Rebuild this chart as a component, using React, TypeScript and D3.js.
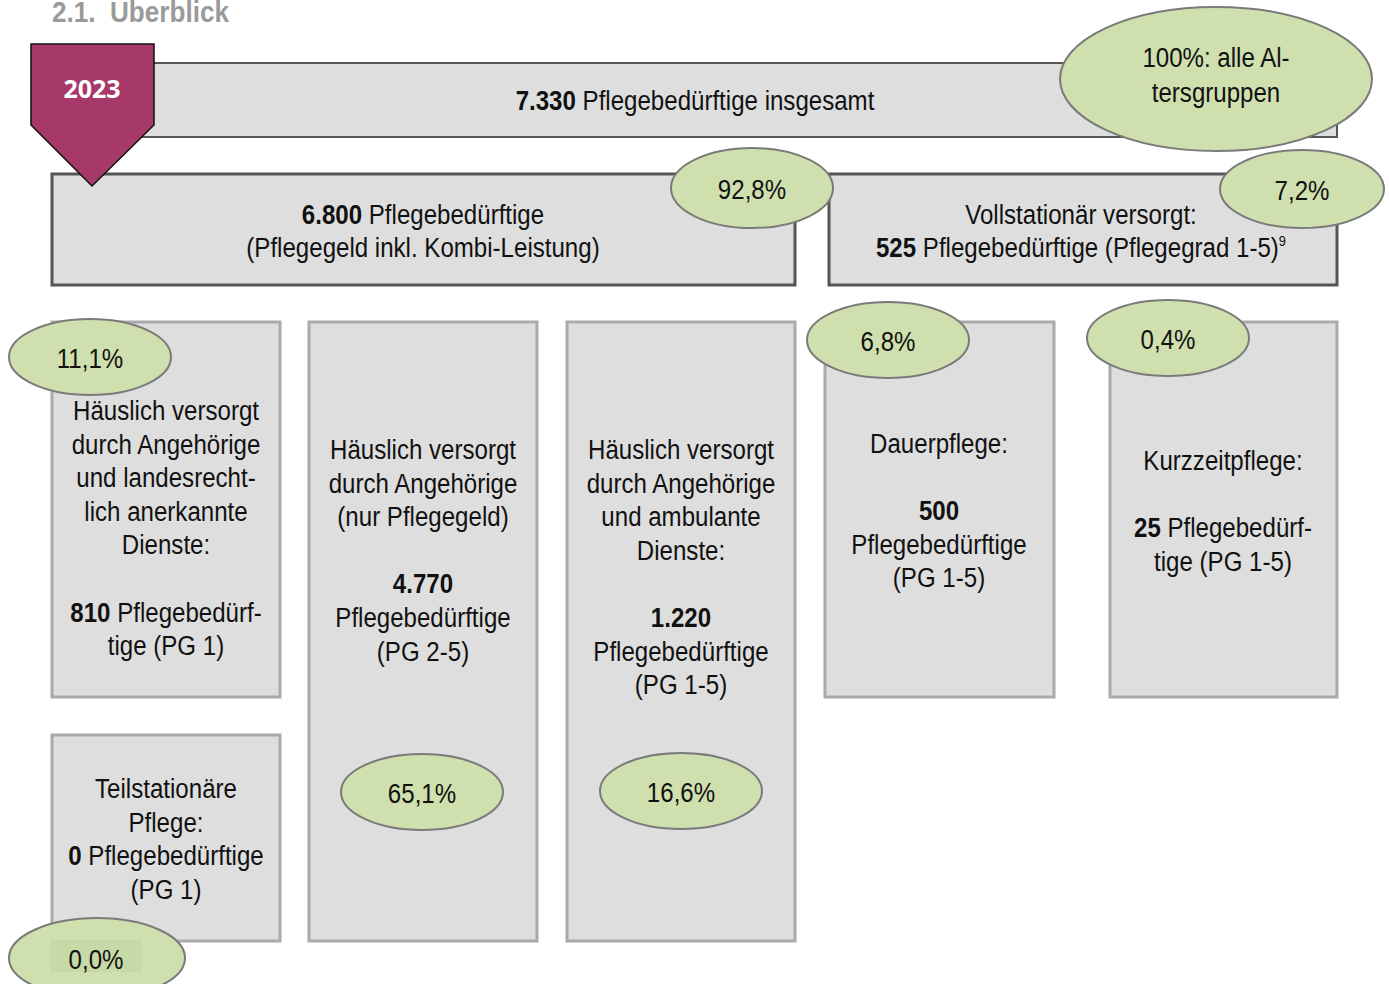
import * as d3 from "d3"

// values
const year = "2023"
const categories = [
  "insgesamt",
  "Pflegegeld",
  "Vollstationär",
  "Angehörige + Dienste",
  "nur Pflegegeld",
  "ambulant",
  "Dauerpflege",
  "Kurzzeitpflege",
  "Teilstationär",
]
const counts = [7330, 6800, 525, 810, 4770, 1220, 500, 25, 0]
const shares = [1, 0.928, 0.072, 0.111, 0.651, 0.166, 0.068, 0.004, 0.0]

const de = d3.formatLocale({ decimal: ",", thousands: ".", grouping: [3], currency: ["", " €"] })
const fmtN = de.format(",d")
const fmtP = de.format(".1%")

// Arial Narrow look: Liberation Sans squeezed horizontally
const FONT = "'Liberation Sans', Arial, sans-serif"
const SX = 0.86
const FS = 28
const GREEN = "#cfdfae"
const GREY = "#dedede"

type Seg = [string, boolean?]
type Line = Seg[]

// layout of the boxes (positions only)
const boxes = [
  { x: 140, y: 63, w: 1197, h: 74, stroke: "#555", sw: 2 },
  { x: 52, y: 174, w: 743, h: 111, stroke: "#555", sw: 3 },
  { x: 829, y: 174, w: 508, h: 111, stroke: "#555", sw: 3 },
  { x: 52, y: 322, w: 228, h: 375, stroke: "#aaa", sw: 3 },
  { x: 309, y: 322, w: 228, h: 619, stroke: "#aaa", sw: 3 },
  { x: 567, y: 322, w: 228, h: 619, stroke: "#aaa", sw: 3 },
  { x: 825, y: 322, w: 229, h: 375, stroke: "#aaa", sw: 3 },
  { x: 1110, y: 322, w: 227, h: 375, stroke: "#aaa", sw: 3 },
  { x: 52, y: 735, w: 228, h: 206, stroke: "#aaa", sw: 3 },
]
const textX = [695, 423, 1081, 166, 423, 681, 939, 1223, 166]
const textStart = [110, 224, 224, 420, 459, 459, 453, 470, 798]
const bubbles = [
  { cx: 1216, cy: 79, rx: 156, ry: 72 },
  { cx: 752, cy: 188, rx: 81, ry: 40 },
  { cx: 1302, cy: 189, rx: 82, ry: 39 },
  { cx: 90, cy: 357, rx: 81, ry: 38 },
  { cx: 422, cy: 792, rx: 81, ry: 38 },
  { cx: 681, cy: 791, rx: 81, ry: 38 },
  { cx: 888, cy: 340, rx: 81, ry: 38 },
  { cx: 1168, cy: 338, rx: 81, ry: 38 },
  { cx: 97, cy: 958, rx: 88, ry: 40 },
]

const P = "Pflegebedürftige"
const texts: Line[][] = [
  [[[fmtN(counts[0]), true], [" " + P + " insgesamt"]]],
  [[[fmtN(counts[1]), true], [" " + P]], [["(Pflegegeld inkl. Kombi-Leistung)"]]],
  [[["Vollstationär versorgt:"]], [[fmtN(counts[2]), true], [" " + P + " (Pflegegrad 1-5)"]]],
  [
    [["Häuslich versorgt"]], [["durch Angehörige"]], [["und landesrecht-"]], [["lich anerkannte"]],
    [["Dienste:"]], [], [[fmtN(counts[3]), true], [" Pflegebedürf-"]], [["tige (PG 1)"]],
  ],
  [
    [["Häuslich versorgt"]], [["durch Angehörige"]], [["(nur Pflegegeld)"]], [],
    [[fmtN(counts[4]), true]], [[P]], [["(PG 2-5)"]],
  ],
  [
    [["Häuslich versorgt"]], [["durch Angehörige"]], [["und ambulante"]], [["Dienste:"]], [],
    [[fmtN(counts[5]), true]], [[P]], [["(PG 1-5)"]],
  ],
  [[["Dauerpflege:"]], [], [[fmtN(counts[6]), true]], [[P]], [["(PG 1-5)"]]],
  [[["Kurzzeitpflege:"]], [], [[fmtN(counts[7]), true], [" Pflegebedürf-"]], [["tige (PG 1-5)"]]],
  [[["Teilstationäre"]], [["Pflege:"]], [[fmtN(counts[8]), true], [" " + P]], [["(PG 1)"]]],
]
const bubbleText = (i: number): string[] =>
  i === 0 ? [d3.format(".0%")(shares[0]) + ": alle Al-", "tersgruppen"] : [fmtP(shares[i])]

const LH = 33.6

// squeezed text group centred on x
function Narrow({ x, children }: { x: number; children: any }) {
  return <g transform={`translate(${x},0) scale(${SX},1)`}>{children}</g>
}

export default function App() {
  const width = 1389
  const height = 984
  return (
    <svg
      width={width}
      height={height}
      style={{ position: "absolute", left: 0, top: 0, background: "#fff" }}
      fontFamily={FONT}
    >
      <g transform="translate(52,0) scale(0.9,1)">
        <text x={0} y={22} fontSize={29} fontWeight={700} fill="#9a9a9a">
          2.1.{"\u00a0\u00a0"}Überblick
        </text>
      </g>
      {categories.map((c, i) => {
        const b = boxes[i]
        return (
          <g key={c}>
            <rect x={b.x} y={b.y} width={b.w} height={b.h} fill={GREY} stroke={b.stroke} strokeWidth={b.sw} />
            <Narrow x={textX[i]}>
              <text textAnchor="middle" fontSize={FS} fill="#111">
                {texts[i].map((line, j) => (
                  <tspan key={j} x={0} y={textStart[i] + j * (i < 3 ? 33 : LH)}>
                    {line.map((s, k) => (
                      <tspan key={k} fontWeight={s[1] ? 700 : 400}>{s[0]}</tspan>
                    ))}
                    {i === 2 && j === 1 ? <tspan fontSize={15} dy={-11}>9</tspan> : null}
                  </tspan>
                ))}
              </text>
            </Narrow>
          </g>
        )
      })}
      <path d="M31,44 L154,44 L154,125 L92,186 L31,125 Z" fill="#a6386a" stroke="#111" strokeWidth={1.5} />
      <text x={92} y={98} textAnchor="middle" fontSize={25} fontWeight={700} fill="#fff" fontFamily="'Open Sans', 'Liberation Sans', sans-serif">
        {year}
      </text>
      {bubbles.map((e, i) => {
        const lines = bubbleText(i)
        return (
          <g key={i}>
            <ellipse cx={e.cx} cy={e.cy} rx={e.rx} ry={e.ry} fill={GREEN} stroke="#7a7a7a" strokeWidth={2} />
            {i === 8 ? <rect x={50} y={940} width={92} height={32} fill="#c6d9a6" /> : null}
            {lines.map((l, j) => (
              <Narrow key={j} x={i === 8 ? 96 : e.cx}>
                <text x={0} y={i === 0 ? 67 + j * 35 : e.cy + 11} textAnchor="middle" fontSize={FS} fill="#111">
                  {l}
                </text>
              </Narrow>
            ))}
          </g>
        )
      })}
    </svg>
  )
}
